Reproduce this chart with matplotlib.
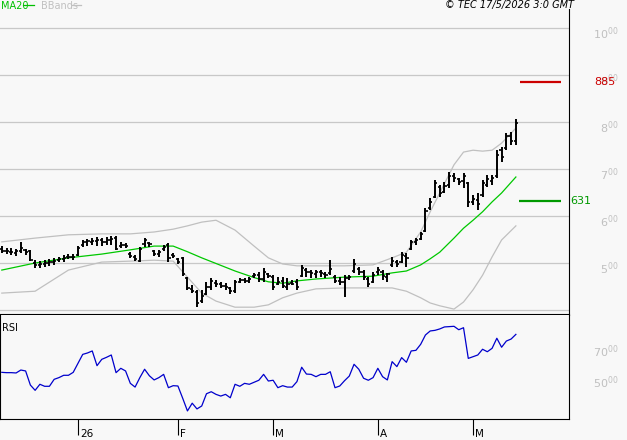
import numpy as np
import pandas as pd
import matplotlib
matplotlib.use('Agg')
import matplotlib.pyplot as plt
import matplotlib.transforms as mtransforms
from matplotlib.lines import Line2D

# trading days (Euronext calendar)
holidays = ['2025-12-25', '2025-12-26', '2026-01-01', '2026-04-03', '2026-04-06', '2026-05-01']
dates = pd.bdate_range('2025-12-08', '2026-05-15', freq='C', holidays=holidays)

opens = [5.30, 5.26, 5.24, 5.22, 5.26, 5.27, 5.26, 5.00, 4.95, 4.98, 5.00, 5.03, 5.06, 5.08, 5.12, 5.13,
         5.16, 5.38, 5.44, 5.45, 5.46, 5.48, 5.45, 5.48, 5.54, 5.36, 5.38, 5.20, 5.12, 5.05, 5.40, 5.43, 5.25, 5.20, 5.30, 5.38, 5.18,
         5.08, 5.10, 4.68, 4.45, 4.38, 4.20, 4.35, 4.50, 4.58, 4.55, 4.52, 4.46, 4.40, 4.60, 4.63, 4.62, 4.72, 4.74, 4.65, 4.76,
         4.70, 4.55, 4.62, 4.50, 4.58, 4.60, 4.72, 4.85, 4.80, 4.76, 4.80, 4.76, 4.78, 4.70, 4.62, 4.60, 4.68, 4.82, 4.88, 4.80, 4.66, 4.60,
         4.80, 4.80, 4.70, 4.95, 5.02, 5.02, 5.15, 5.30, 5.44, 5.52, 5.68, 6.18, 6.40, 6.62, 6.52, 6.66, 6.85, 6.78, 6.75, 6.70,
         6.30, 6.35, 6.45, 6.66, 6.75, 6.85, 7.40, 7.45, 7.70, 7.60]
highs = [5.36, 5.32, 5.32, 5.30, 5.45, 5.30, 5.28, 5.06, 5.04, 5.06, 5.09, 5.11, 5.13, 5.17, 5.19, 5.19,
         5.36, 5.49, 5.51, 5.53, 5.55, 5.53, 5.55, 5.57, 5.57, 5.45, 5.43, 5.23, 5.17, 5.34, 5.53, 5.45, 5.28, 5.28, 5.38, 5.43, 5.21,
         5.11, 5.13, 4.70, 4.53, 4.43, 4.43, 4.60, 4.68, 4.64, 4.60, 4.57, 4.49, 4.64, 4.68, 4.68, 4.70, 4.79, 4.81, 4.89, 4.79,
         4.74, 4.70, 4.70, 4.68, 4.64, 4.66, 4.96, 4.89, 4.85, 4.85, 4.85, 4.81, 5.06, 4.74, 4.70, 4.74, 4.74, 5.09, 4.91, 4.85, 4.70, 4.81,
         4.91, 4.85, 4.79, 5.13, 5.06, 5.23, 5.21, 5.49, 5.53, 5.66, 6.17, 6.38, 6.77, 6.66, 6.72, 6.94, 6.91, 6.81, 6.91, 6.72,
         6.45, 6.49, 6.77, 6.87, 6.87, 7.40, 7.47, 7.77, 7.79, 8.06]
lows = [5.21, 5.19, 5.17, 5.15, 5.21, 5.17, 5.04, 4.89, 4.89, 4.91, 4.94, 4.96, 5.02, 5.02, 5.09, 5.06,
        5.15, 5.34, 5.36, 5.38, 5.36, 5.36, 5.38, 5.38, 5.28, 5.32, 5.32, 5.11, 5.04, 5.02, 5.34, 5.34, 5.15, 5.13, 5.26, 5.02, 5.11,
        4.98, 4.72, 4.43, 4.36, 4.06, 4.15, 4.32, 4.43, 4.49, 4.47, 4.43, 4.34, 4.36, 4.57, 4.57, 4.57, 4.68, 4.60, 4.60, 4.68,
        4.43, 4.53, 4.47, 4.43, 4.53, 4.43, 4.70, 4.70, 4.68, 4.68, 4.70, 4.68, 4.74, 4.57, 4.53, 4.28, 4.64, 4.79, 4.74, 4.64, 4.49, 4.57,
        4.74, 4.64, 4.60, 4.91, 4.91, 5.00, 4.91, 5.28, 5.38, 5.49, 5.66, 6.13, 6.38, 6.40, 6.49, 6.60, 6.72, 6.66, 6.60, 6.19,
        6.23, 6.13, 6.40, 6.62, 6.66, 6.81, 7.15, 7.40, 7.51, 7.51]
closes = [5.26, 5.25, 5.24, 5.25, 5.32, 5.24, 5.06, 4.96, 4.98, 5.00, 5.02, 5.05, 5.08, 5.11, 5.13, 5.12,
          5.32, 5.45, 5.46, 5.47, 5.50, 5.45, 5.50, 5.52, 5.30, 5.38, 5.37, 5.15, 5.08, 5.30, 5.48, 5.40, 5.20, 5.24, 5.34, 5.10, 5.15,
          5.02, 4.76, 4.47, 4.40, 4.15, 4.30, 4.50, 4.62, 4.55, 4.52, 4.48, 4.40, 4.60, 4.64, 4.62, 4.66, 4.74, 4.66, 4.80, 4.72,
          4.50, 4.60, 4.52, 4.55, 4.56, 4.48, 4.90, 4.80, 4.78, 4.80, 4.78, 4.74, 4.88, 4.62, 4.60, 4.68, 4.70, 4.98, 4.80, 4.70, 4.55, 4.75,
          4.86, 4.72, 4.76, 5.05, 4.98, 5.18, 5.10, 5.45, 5.48, 5.62, 6.10, 6.30, 6.70, 6.50, 6.64, 6.85, 6.80, 6.72, 6.85, 6.30,
          6.36, 6.25, 6.70, 6.78, 6.80, 7.30, 7.25, 7.70, 7.60, 7.98]

rsi = [53.0, 52.8, 52.8, 52.6, 54.5, 53.9, 44.8, 41.4, 45.3, 44.0, 44.0, 48.5, 49.6, 51.1, 51.1, 53.0,
       58.8, 64.6, 65.5, 66.8, 57.3, 61.4, 62.7, 64.2, 52.8, 55.6, 53.9, 45.9, 43.5, 49.6, 55.0, 50.8, 48.1, 49.6, 51.7, 43.1, 44.4,
       44.2, 36.3, 28.1, 33.1, 29.4, 31.3, 39.2, 40.5, 38.8, 37.7, 38.8, 36.6, 45.3, 44.0, 45.9, 45.3, 46.6, 47.9, 51.7, 47.4,
       47.9, 43.1, 44.4, 43.5, 43.5, 47.0, 56.3, 51.9, 51.7, 50.2, 51.7, 51.7, 53.4, 43.1, 44.2, 47.6, 50.6, 58.2, 55.0, 49.2, 47.9, 49.6,
       55.6, 50.2, 48.1, 59.9, 56.7, 62.5, 59.5, 66.8, 67.2, 71.1, 77.1, 79.7, 80.1, 81.0, 82.3, 82.5, 82.7, 80.5, 81.8, 62.0,
       63.1, 64.2, 67.9, 66.3, 68.5, 75.0, 69.2, 73.2, 74.5, 77.5]

# MA20 and Bollinger bands, read at these bar positions
band_idx = [0, 7, 14, 21, 27, 32, 36, 39, 42, 45, 49, 53, 56, 59, 62, 66, 72, 78, 82, 85,
            88, 90, 92, 95, 97, 99, 101, 103, 105, 108]
ma20 = [4.85, 5.00, 5.11, 5.19, 5.28, 5.36, 5.36, 5.24, 5.11, 4.99, 4.83, 4.69, 4.60, 4.57, 4.62, 4.66, 4.70, 4.72, 4.79, 4.83,
        4.96, 5.09, 5.23, 5.53, 5.74, 5.91, 6.09, 6.30, 6.49, 6.83]
bb_up = [5.45, 5.53, 5.60, 5.62, 5.62, 5.66, 5.72, 5.79, 5.87, 5.91, 5.70, 5.36, 5.11, 4.98, 4.94, 4.94, 4.94, 4.96, 5.11, 5.23,
         5.66, 6.09, 6.49, 7.09, 7.36, 7.40, 7.38, 7.40, 7.55, 7.87]
bb_lo = [4.36, 4.40, 4.85, 5.02, 5.04, 5.06, 5.04, 4.70, 4.36, 4.19, 4.06, 4.06, 4.11, 4.26, 4.36, 4.45, 4.47, 4.47, 4.47, 4.40,
         4.26, 4.15, 4.09, 4.02, 4.17, 4.43, 4.74, 5.13, 5.49, 5.79]

target = 8.85
support = 6.31
price_ticks = [5, 6, 7, 8, 9, 10]
rsi_ticks = [50, 70]

BG = '#f8f8f8'
GRID = '#c8c8c8'
LBL = '#c0c0c0'

W, H = 627, 440
def fx(px):
    return px / W
def fy(py):
    return 1 - py / H

fig = plt.figure(figsize=(W / 100, H / 100), dpi=100, facecolor=BG)
ax = fig.add_axes([0, fy(315), fx(569), fy(9) - fy(315)])
rx = fig.add_axes([0, fy(419), fx(569), fy(315) - fy(419)])

idx = np.arange(len(dates))
x_lim = (-0.38, 119.16)

# --- price panel ---
ax.set_facecolor(BG)
ax.set_xlim(*x_lim)
ax.set_ylim(3.894, 10.404)
for v in [4] + price_ticks:
    ax.axhline(v, color=GRID, lw=0.9, zorder=0)

ax.plot(band_idx, bb_up, color=LBL, lw=0.9, zorder=1)
ax.plot(band_idx, bb_lo, color=LBL, lw=0.9, zorder=1)
ax.plot(band_idx, ma20, color='#00c800', lw=0.9, zorder=2)

ax.vlines(idx, lows, highs, color='black', lw=1.4, zorder=3)
ax.hlines(opens, idx - 0.45, idx, color='black', lw=1.2, zorder=3)
ax.hlines(closes, idx, idx + 0.45, color='black', lw=1.2, zorder=3)

ax.hlines(target, 108.9, 117.5, color='#cc0000', lw=1.6, zorder=3)
ax.hlines(support, 108.7, 117.5, color='#009900', lw=1.6, zorder=3)

ax.set_xticks([])
ax.set_yticks([])
for s in ['top', 'left']:
    ax.spines[s].set_visible(False)
ax.spines['right'].set_linewidth(0.8)
ax.spines['bottom'].set_linewidth(1.5)

tr = mtransforms.offset_copy(mtransforms.blended_transform_factory(fig.transFigure, ax.transData),
                             fig=fig, y=3, units='dots')
for v in price_ticks:
    ax.text(fx(619), v, r'$\mathregular{%d^{00}}$' % v, transform=tr, ha='right', va='top',
            color=LBL, fontsize=8)
tr2 = mtransforms.blended_transform_factory(fig.transFigure, ax.transData)
ax.text(fx(594), target, '%d' % round(target * 100), transform=tr2, ha='left', va='center',
        color='#cc0000', fontsize=8)
ax.text(fx(570), support, '%d' % round(support * 100), transform=tr2, ha='left', va='center',
        color='#009900', fontsize=8)

# --- RSI panel ---
rx.set_facecolor(BG)
rx.set_xlim(*x_lim)
rx.set_ylim(22.9, 90.0)
rx.plot(idx, rsi, color='#0000cc', lw=0.9)
rx.set_yticks([])
for s in rx.spines.values():
    s.set_linewidth(0.8)
rx.spines['top'].set_visible(False)

month_pos = []
month_lbl = []
for i in range(1, len(dates)):
    if dates[i].month != dates[i - 1].month:
        month_pos.append(i)
        month_lbl.append(dates[i].strftime('%y') if dates[i].month == 1 else dates[i].strftime('%b')[0])
rx.set_xticks(month_pos)
rx.set_xticklabels([])
rx.tick_params(axis='x', direction='out', length=11.5, width=0.8, color='black')
trx = mtransforms.blended_transform_factory(rx.transData, fig.transFigure)
for p, l in zip(month_pos, month_lbl):
    rx.text(p + 0.45, fy(437), l, transform=trx, ha='left', va='baseline', fontsize=7.5)

trr = mtransforms.offset_copy(mtransforms.blended_transform_factory(fig.transFigure, rx.transData),
                              fig=fig, y=3, units='dots')
for v in rsi_ticks:
    rx.text(fx(619), v, r'$\mathregular{%d^{00}}$' % v, transform=trr, ha='right', va='top',
            color=LBL, fontsize=8)

# --- header texts ---
fig.text(fx(1), fy(9), 'MA20', color='#00c000', fontsize=7, va='baseline')
fig.add_artist(Line2D([fx(23), fx(34)], [fy(5), fy(5)], color='#00c000', lw=0.9))
fig.text(fx(41), fy(9), 'BBands', color=LBL, fontsize=7, va='baseline')
fig.add_artist(Line2D([fx(72), fx(81)], [fy(5), fy(5)], color=LBL, lw=0.9))
fig.text(fx(574), fy(8), '\u00a9 TEC 17/5/2026 3:0 GMT', ha='right', va='baseline',
         fontsize=7, style='italic')
fig.text(fx(2), fy(331), 'RSI', fontsize=7, va='baseline')

fig.savefig('out.png', dpi=100, facecolor=BG)
